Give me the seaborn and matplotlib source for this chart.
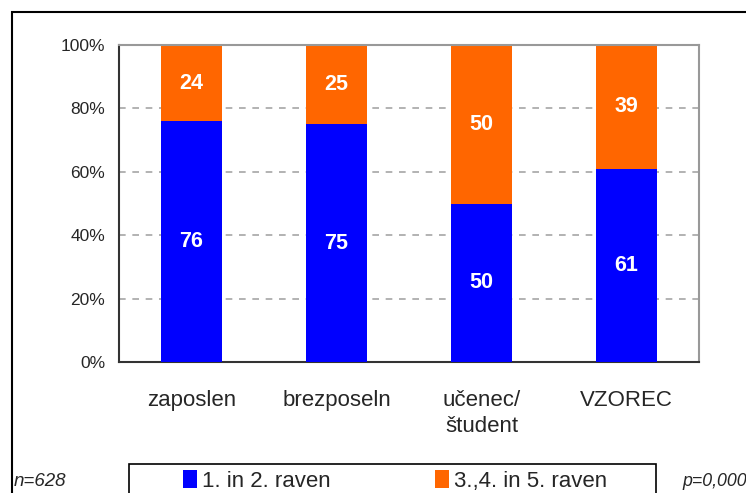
import matplotlib
matplotlib.use("Agg")
import matplotlib.pyplot as plt
import seaborn as sns
import pandas as pd
from matplotlib.patches import Rectangle, Patch

categories = ["zaposlen", "brezposeln", "učenec/\nštudent", "VZOREC"]
low_levels = [76, 75, 50, 61]      # 1. in 2. raven
high_levels = [24, 25, 50, 39]     # 3.,4. in 5. raven
series_names = ["1. in 2. raven", "3.,4. in 5. raven"]
y_ticks = [0, 20, 40, 60, 80, 100]
y_tick_labels = ["0%", "20%", "40%", "60%", "80%", "100%"]
note_left = "n=628"
note_right = "p=0,000"

BLUE = "#0000FF"
ORANGE = "#FF6600"

sns.set_style("white")
plt.rcParams["font.family"] = ["Liberation Sans", "DejaVu Sans"]

W, H = 746, 493
fig = plt.figure(figsize=(W / 100, H / 100), dpi=100)
ax = fig.add_axes([119 / W, 1 - 362 / H, (699 - 119) / W, (362 - 45) / H])

df = pd.DataFrame({
    "cat": categories,
    "low": low_levels,
    "high": high_levels,
})
df["total"] = df["low"] + df["high"]

sns.barplot(data=df, x="cat", y="total", color=ORANGE, saturation=1,
            width=0.42, ax=ax, edgecolor="none", linewidth=0, zorder=2)
sns.barplot(data=df, x="cat", y="low", color=BLUE, saturation=1,
            width=0.42, ax=ax, edgecolor="none", linewidth=0, zorder=3)

for i, (lo, hi) in enumerate(zip(low_levels, high_levels)):
    ax.text(i, lo / 2, f"{lo}", ha="center", va="center", color="white",
            fontsize=15.5, fontweight="bold", zorder=4)
    ax.text(i, lo + hi / 2, f"{hi}", ha="center", va="center", color="white",
            fontsize=15.5, fontweight="bold", zorder=4)

ax.set_xlim(-0.5, len(categories) - 0.5)
ax.set_ylim(0, 100)
ax.set_yticks(y_ticks)
ax.set_yticklabels(y_tick_labels, fontsize=12.5)
ax.set_xlabel("")
ax.set_ylabel("")

for y in y_ticks[1:-1]:
    ax.axhline(y, color="#a6a6a6", linestyle=(0, (4, 4)), linewidth=1.2, zorder=1)

ax.set_xticks(range(len(categories)))
ax.set_xticklabels(categories, fontsize=16, linespacing=1.35, va="top")
ax.tick_params(axis="x", which="major", length=0, pad=20)
ax.set_xticks([i - 0.5 for i in range(len(categories) + 1)], minor=True)
ax.tick_params(axis="x", which="minor", length=6, width=1.2, color="#333333", direction="out")
ax.tick_params(axis="y", length=6, width=1.2, color="#333333", direction="out", pad=4)

for side in ["left", "bottom"]:
    ax.spines[side].set_color("#333333")
    ax.spines[side].set_linewidth(1.5)
for side in ["top", "right"]:
    ax.spines[side].set_color("#999999")
    ax.spines[side].set_linewidth(1.5)
    ax.spines[side].set_visible(True)

# figure border
fig.patches.append(Rectangle((12 / W, -0.1), 1.2, 1 - 12 / H + 0.1,
                             transform=fig.transFigure, fill=False,
                             edgecolor="black", linewidth=1.5))
# legend frame
fig.patches.append(Rectangle((129 / W, -0.1), (656 - 129) / W, 1 - 464 / H + 0.1,
                             transform=fig.transFigure, fill=False,
                             edgecolor="black", linewidth=1.2))

handles = [Patch(facecolor=BLUE, edgecolor="none"), Patch(facecolor=ORANGE, edgecolor="none")]
fig.legend(handles, series_names, loc="center left",
           bbox_to_anchor=(183 / W, 1 - 481 / H), ncol=2, frameon=False,
           fontsize=16, handlelength=0.65, handleheight=0.85, handletextpad=0.2,
           columnspacing=4.7, borderpad=0, borderaxespad=0)

fig.text(14 / W, 1 - 481 / H, note_left, fontsize=13.5, style="italic",
         ha="left", va="center")
fig.text(682 / W, 1 - 481 / H, note_right, fontsize=12.8, style="italic",
         ha="left", va="center")

fig.savefig("out.png", dpi=100)
